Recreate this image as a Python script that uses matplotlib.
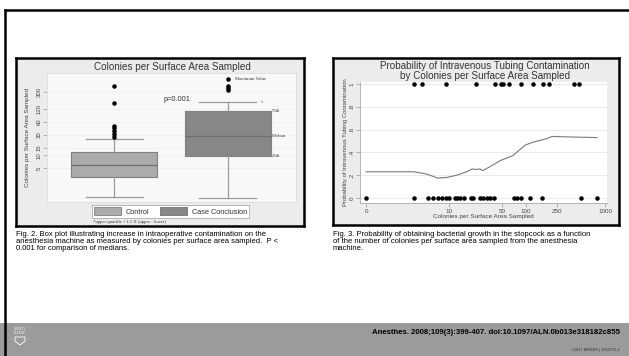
import numpy as np
import matplotlib
matplotlib.use('Agg')
import matplotlib.pyplot as plt
from matplotlib.patches import Patch, Polygon, Rectangle
from matplotlib.lines import Line2D

plt.rcParams['font.family'] = ['Liberation Sans', 'DejaVu Sans']

# box plot stats: colonies per surface area sampled
groups = ['Control', 'Case Conclusion']
whis_lo = [1.05, 1.0]
q1 = [3.1, 9.6]
median = [6.0, 28.0]
q3 = [12.0, 108.0]
whis_hi = [24.0, 176.0]
fliers_control = [27, 31, 37, 43, 48, 167, 417]
fliers_case = [345, 374, 417]
max_value = 608
box_ticks = [5, 10, 15, 30, 60, 120, 300]

# probability of tubing contamination vs colonies
pos_x = [3, 4, 9, 23, 41, 48, 52, 62, 86, 125, 167, 198, 409, 473]
neg_x = [0, 3, 5, 6, 7, 8, 9, 10, 12, 13, 14, 16, 20, 21, 26, 28, 32, 35, 39,
         72, 78, 88, 114, 162, 499, 793]
curve_x = [0, 3, 4.8, 6.9, 9.3, 12.7, 17.3, 20.6, 23, 26, 28, 34, 48, 68, 99,
           125, 183, 215, 400, 794]
curve_p = [0.23, 0.23, 0.21, 0.175, 0.18, 0.20, 0.23, 0.255, 0.25, 0.255, 0.24,
           0.27, 0.33, 0.37, 0.465, 0.49, 0.52, 0.54, 0.535, 0.53]
prob_xticks = [0, 10, 50, 100, 250, 1000]
prob_yticks = [0, 0.2, 0.4, 0.6, 0.8, 1]
prob_ylabels = ['0', '.2', '.4', '.6', '.8', '1']

W, H = 629, 356
fig = plt.figure(figsize=(W / 100, H / 100), dpi=100)
fig.patch.set_facecolor('white')


def rect(x0, y0, x1, y1):
    return [x0 / W, 1 - y1 / H, (x1 - x0) / W, (y1 - y0) / H]


def ftxt(x, y, s, **kw):
    return fig.text(x / W, 1 - y / H, s, **kw)


def frame(x0, y0, x1, y1):
    a = fig.add_axes(rect(x0, y0, x1, y1))
    a.set_facecolor('#ececec')
    a.set_xticks([])
    a.set_yticks([])
    for s in a.spines.values():
        s.set_linewidth(1.8)
        s.set_color('black')
    return a


# slide border and footer band
fig.add_artist(Rectangle((0, 0), 1, 33 / H, transform=fig.transFigure,
                         facecolor='#9b9b9b', edgecolor='none'))
fig.add_artist(Line2D([5 / W, 1], [1 - 10 / H, 1 - 10 / H], color='black', lw=1.8))
fig.add_artist(Line2D([5 / W, 5 / W], [0, 1 - 10 / H], color='black', lw=1.8))

# ---- left: box plot ----
frame(16, 58, 304, 226)
ax1 = fig.add_axes(rect(47, 73, 296, 202))
ax1.set_facecolor('#f8f8f8')
stats = []
for i in range(2):
    stats.append(dict(whislo=whis_lo[i], q1=q1[i], med=median[i], q3=q3[i],
                      whishi=whis_hi[i], fliers=[]))
bp = ax1.bxp(stats, positions=[1, 2], widths=0.756, patch_artist=True,
             showfliers=False,
             whiskerprops=dict(color='#9a9a9a', lw=0.9),
             capprops=dict(color='#9a9a9a', lw=0.9),
             medianprops=dict(color='#6e6e6e', lw=0.9),
             boxprops=dict(edgecolor='#808080', lw=0.8),
             capwidths=0.5)
bp['boxes'][0].set_facecolor('#ababab')
bp['boxes'][1].set_facecolor('#878787')
ax1.scatter([1] * len(fliers_control), fliers_control, s=5, c='black', zorder=3)
ax1.scatter([2] * len(fliers_case), fliers_case, s=5, c='black', zorder=3)
ax1.scatter([2], [max_value], s=5, c='black', zorder=3)
ax1.set_yscale('log')
ax1.set_ylim(0.8, 840)
ax1.set_xlim(0.41, 2.6)
ax1.set_xticks([])
ax1.set_yticks(box_ticks)
ax1.set_yticklabels([str(t) for t in box_ticks], rotation=90, va='center',
                    fontsize=4.3, color='#444444')
ax1.yaxis.set_minor_locator(matplotlib.ticker.NullLocator())
ax1.tick_params(axis='y', length=3, width=0.5, color='#999999', pad=1)
ax1.grid(axis='y', color='#efefef', lw=0.6)
ax1.set_axisbelow(True)
for s in ax1.spines.values():
    s.set_color('#dddddd')
    s.set_linewidth(0.6)
ax1.set_ylabel('Colonies per Surface Area Sampled', fontsize=4.5,
               color='#444444', labelpad=2)
ax1.yaxis.set_label_coords(-0.07, 0.5)

serif = dict(family=['Liberation Serif', 'DejaVu Serif'], fontsize=3.3,
             color='#333333')
ax1.text(2.06, max_value, 'Maximum Value', va='center', ha='left', **serif)
ax1.text(2.385, q3[1], '75th', va='center', ha='left', **serif)
ax1.text(2.385, median[1], 'Median', va='center', ha='left', **serif)
ax1.text(2.385, q1[1], '25th', va='center', ha='left', **serif)
ax1.text(2.29, whis_hi[1], '*', va='center', ha='left', **serif)
ax1.text(1.55, 200, 'p=0.001', ha='center', va='center', fontsize=5.3,
         color='#333333')

ftxt(172, 67, 'Colonies per Surface Area Sampled', ha='center', va='center',
     fontsize=7.1, color='#333333')
fig.legend(handles=[Patch(facecolor='#ababab', edgecolor='#808080', lw=0.6,
                          label=groups[0]),
                    Patch(facecolor='#878787', edgecolor='#707070', lw=0.6,
                          label=groups[1])],
           loc='center', bbox_to_anchor=(170.5 / W, 1 - 211.5 / H), ncol=2,
           fontsize=5.3, frameon=True, fancybox=False, edgecolor='#aaaaaa',
           facecolor='white', framealpha=1, handlelength=3.7,
           handleheight=1.2, columnspacing=1.5, handletextpad=0.6,
           borderpad=0.3, labelcolor='#333333').get_frame().set_linewidth(0.6)
ftxt(93, 222, '*upper quartile + 1.5 X (upper - lower)', ha='left',
     va='center', **serif)

# ---- right: probability curve ----
frame(333, 58, 619, 225)
ax2 = fig.add_axes(rect(360, 82, 607, 203))
ax2.set_facecolor('white')
ax2.set_xscale('function', functions=(lambda v: np.log10(np.asarray(v) + 1),
                                      lambda u: 10 ** np.asarray(u) - 1))
ax2.plot(curve_x, curve_p, color='#7a7a7a', lw=0.8)
ax2.scatter(pos_x, [1] * len(pos_x), s=5, c='black', zorder=3, clip_on=False)
ax2.scatter(neg_x, [0] * len(neg_x), s=5, c='black', zorder=3, clip_on=False)
ax2.set_xlim(-0.16, 1058)
ax2.set_ylim(-0.044, 1.018)
ax2.set_xticks(prob_xticks)
ax2.set_xticklabels([str(t) for t in prob_xticks], fontsize=4.5,
                    color='#444444')
ax2.xaxis.set_minor_locator(matplotlib.ticker.NullLocator())
ax2.set_yticks(prob_yticks)
ax2.set_yticklabels(prob_ylabels, rotation=90, va='center', fontsize=4.5,
                    color='#444444')
ax2.tick_params(length=3, width=0.5, color='#999999', pad=1)
ax2.grid(axis='y', color='#e6e6e6', lw=0.6)
ax2.set_axisbelow(True)
for k in ['top', 'right']:
    ax2.spines[k].set_visible(False)
for k in ['left', 'bottom']:
    ax2.spines[k].set_color('#aaaaaa')
    ax2.spines[k].set_linewidth(0.6)
ax2.set_xlabel('Colonies per Surface Area Sampled', fontsize=4.6,
               color='#444444', labelpad=0)
ax2.set_ylabel('Probability of Intravenous Tubing Contamination', fontsize=4.3,
               color='#444444', labelpad=1)
ftxt(485, 71, 'Probability of Intravenous Tubing Contamination\n'
     'by Colonies per Surface Area Sampled', ha='center', va='center',
     fontsize=7.1, color='#333333', linespacing=0.9)

# ---- captions ----
ftxt(16, 231, 'Fig. 2. Box plot illustrating increase in intraoperative contamination on the\n'
     'anesthesia machine as measured by colonies per surface area sampled.  P <\n'
     '0.001 for comparison of medians.', ha='left', va='top', fontsize=5.5,
     linespacing=1.05)
ftxt(333, 231, 'Fig. 3. Probability of obtaining bacterial growth in the stopcock as a function\n'
     'of the number of colonies per surface area sampled from the anesthesia\n'
     'machine.', ha='left', va='top', fontsize=5.5, linespacing=1.05)

# ---- footer ----
ftxt(620, 333, 'Anesthes. 2008;109(3):399-407. doi:10.1097/ALN.0b013e318182c855',
     ha='right', va='center', fontsize=5.6, fontweight='bold')
ftxt(620, 350, '\u00a92017 MFMER | 3053775-2', ha='right', va='center',
     fontsize=2.8, color='#333333')
ftxt(20, 331, 'MAYO\nCLINIC', ha='center', va='center', fontsize=3.0,
     color='white', linespacing=0.9, family=['Liberation Serif', 'DejaVu Serif'])
shield = [(15, 337), (25, 337), (25, 341), (20, 345), (15, 341)]
fig.add_artist(Polygon([(x / W, 1 - y / H) for x, y in shield], closed=True,
                       transform=fig.transFigure, facecolor='none',
                       edgecolor='white', lw=0.6))

fig.savefig('out.png', dpi=100)
